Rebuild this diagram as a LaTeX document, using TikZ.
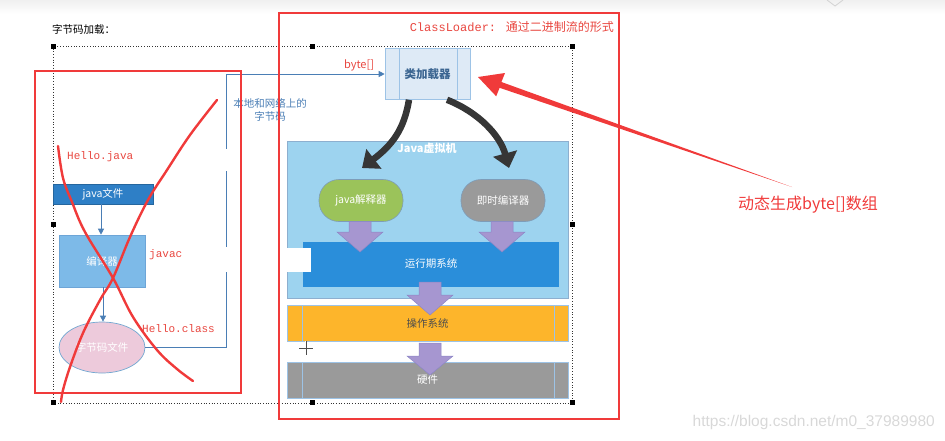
\documentclass[tikz,border=0pt]{standalone}
\usepackage{fontspec}
\setmainfont{Noto Sans CJK SC}
\newfontfamily\monofont{Liberation Mono}
\newfontfamily\wmfont{Liberation Sans}
\usetikzlibrary{arrows.meta,shapes.geometric}
\definecolor{redmark}{HTML}{F03A3A}
\definecolor{redtxt}{HTML}{E8463F}
\definecolor{steel}{HTML}{4A7EB5}
\definecolor{cjava}{HTML}{2E7FC6}
\definecolor{ccomp}{HTML}{7DBAE8}
\definecolor{cpink}{HTML}{EDCADB}
\definecolor{cloader}{HTML}{DEEAF6}
\definecolor{cborder}{HTML}{9DC3E6}
\definecolor{cjvm}{HTML}{9DD3EF}
\definecolor{cgreen}{HTML}{9BC35A}
\definecolor{cgray}{HTML}{9A9A9A}
\definecolor{crun}{HTML}{2A8EDA}
\definecolor{corange}{HTML}{FDB52B}
\definecolor{cpurple}{HTML}{A696D0}
\definecolor{cpurpleb}{HTML}{8C86C6}
\definecolor{cdark}{HTML}{363636}
\definecolor{cwm}{HTML}{D8D8D8}
\newcommand\downarr[5]{% name, cx, top, head, tip
  \draw[purplearr] (#2-11,#3) -- (#2+11,#3) -- (#2+11,#4) -- (#2+23,#4) -- (#2,#5) coordinate (#1) -- (#2-23,#4) -- (#2-11,#4) -- cycle;}
\begin{document}
\begin{tikzpicture}[x=1pt,y=-1pt,
  lbl/.style={font=\fontsize{10.5}{12}\selectfont, text=white, inner sep=0pt},
  box/.style={draw=cborder, line width=0.6pt, inner sep=0pt},
  redbox/.style={draw=redmark, line width=2.8pt},
  redstroke/.style={draw=redmark, line width=2.4pt, line cap=round, line join=round},
  monored/.style={font=\monofont\fontsize{11}{13}\selectfont, text=redtxt, inner sep=0pt, anchor=west},
  conn/.style={draw=steel, line width=0.8pt, -{Triangle[length=6pt,width=6pt]}},
  handle/.style={fill=black, minimum size=5pt, inner sep=0pt},
  purplearr/.style={fill=cpurple, draw=cpurpleb, line width=0.5pt},
  curvearr/.style={draw=cdark, line width=6.5pt, -{Triangle[length=15pt,width=24pt]}},
  gap/.style={fill=white, draw=none}
]
\useasboundingbox (0,0) rectangle (945,440);
% top band of the screenshot
\shade[top color=gray!12, bottom color=white, draw=none] (0,0) rectangle (945,14);
\draw[gray!35, line width=0.8pt] (827,0) -- (835,6) -- (843,0);

% title
\node[anchor=west, font=\fontsize{10.5}{12}\selectfont, inner sep=0pt] (title) at (52,29) {字节码加载：};

% dotted selection frame with handles
\draw[black!80, line width=0.7pt, dotted] (53,46) rectangle (572,403);
\node[handle] (h1) at (53,46) {};
\node[handle] (h2) at (312,46) {};
\node[handle] (h3) at (572,46) {};
\node[handle] (h4) at (53,224) {};
\node[handle] (h5) at (572,224) {};
\node[handle] (h6) at (53,402) {};
\node[handle] (h7) at (312,402) {};
\node[handle] (h8) at (572,402) {};

% ---------- left part ----------
\node[box, draw=cjava!80!black, fill=cjava, minimum width=100pt, minimum height=20pt, lbl] (javafile) at (103,194) {java文件};
\node[box, draw=cjava!70, fill=ccomp, minimum width=86pt, minimum height=52pt, lbl] (compiler) at (102,261) {编译器};
\node[ellipse, draw=ccomp!90!black, line width=0.7pt, fill=cpink, minimum width=86pt, minimum height=51pt, lbl, inner sep=0pt] (bytefile) at (102,347.5) {字节码文件};
\draw[conn] (javafile.south -| 101,0) -- (compiler.north -| 101,0);
\draw[conn] (compiler.south -| 103,0) -- (bytefile.north -| 103,0);

\node[monored] (hellojava) at (67,157) {Hello.java};
\node[monored] (javac) at (149,255) {javac};
\node[monored] (helloclass) at (142,329) {Hello.class};

% loader
\node[box, fill=cloader, minimum width=85pt, minimum height=51pt, inner sep=0pt,
      font=\bfseries\fontsize{11.5}{13}\selectfont, text=steel!80!black] (loader) at (427.5,74) {类加载器};
\draw[cborder, line width=0.6pt] (399,48.5) -- (399,99.5) (457,48.5) -- (457,99.5);

% connector from byte file to loader
\draw[conn] (bytefile.east) -- (226,347.5) |- (loader.west);
\fill[gap] (222,149) rectangle (230,171);
\fill[gap] (222,247) rectangle (230,272);
\node[font=\fontsize{10.5}{13}\selectfont, text=steel, align=center, inner sep=0pt] (netlbl) at (270,110) {本地和网络上的\\字节码};
\node[font=\fontsize{11}{12}\selectfont, text=redtxt, inner sep=0pt] (bytelbl) at (359,65) {byte[]};

% ---------- JVM ----------
\node[box, draw=cborder!90!black, fill=cjvm, minimum width=281pt, minimum height=157pt] (jvm) at (427.5,219.5) {};
\node[font=\bfseries\fontsize{11}{12}\selectfont, text=white, inner sep=0pt] (jvmlbl) at (427,148) {Java虚拟机};
\node[box, draw=cborder!80!black, fill=cgreen, rounded corners=20pt, minimum width=84pt, minimum height=42pt, lbl] (interp) at (361,200.5) {java解释器};
\node[box, draw=cborder!80!black, fill=cgray, rounded corners=20pt, minimum width=84pt, minimum height=42pt, lbl] (jit) at (503,200.5) {即时编译器};
\node[draw=none, fill=crun, minimum width=256pt, minimum height=45pt, lbl, inner sep=0pt] (runtime) at (431,264) {运行期系统};
\fill[gap] (287,248) rectangle (311,272);
\node[box, fill=corange, minimum width=281pt, minimum height=36pt, lbl, text=black!70] (os) at (427.5,323.5) {操作系统};
\draw[cborder, line width=0.5pt] (302,305.5) -- (302,341.5) (554,305.5) -- (554,341.5);
\node[box, fill=cgray, minimum width=281pt, minimum height=36pt, lbl] (hw) at (427.5,380) {硬件};
\draw[cborder, line width=0.5pt] (302,362) -- (302,398) (554,362) -- (554,398);

% purple block arrows
\downarr{pa1}{360}{221.5}{232}{252}
\downarr{pa2}{502}{221.5}{232}{252}
\downarr{pa3}{430}{282}{295}{315}
\downarr{pa4}{430}{343}{356}{375}

% curved dark arrows from loader
\draw[curvearr] (loader.south -| 409,0) .. controls (404,130) and (392,145) .. (362,168) coordinate (ca1);
\draw[curvearr] (loader.south -| 447,0) .. controls (478,112) and (500,135) .. (509,168) coordinate (ca2);

% mouse cursor cross
\draw[white, line width=2pt] (299,348) -- (313,348) (306,341) -- (306,355);
\draw[black!70, line width=0.7pt] (299,348) -- (313,348) (306,341) -- (306,355);

% ---------- red annotations ----------
\draw[redbox] (35,71) rectangle (241,393);
\draw[redbox] (279,13) rectangle (619,419);
\node[anchor=east, inner sep=0pt, text=redtxt] (cltxt) at (614,27)
  {{\monofont\fontsize{12}{14}\selectfont ClassLoader: }{\fontsize{12}{14}\selectfont 通过二进制流的形式}};

\draw[redstroke] plot[smooth, tension=0.6] coordinates {(58,146) (63,178) (72,202) (85,232) (113,278) (133,317) (157,350) (177,369) (193,381)};
\draw[redstroke] plot[smooth, tension=0.6] coordinates {(217,100) (190,135) (167,170) (148,200) (130,237) (113,278) (100,300) (83,333) (70,367) (63,390) (61,402)};

% big red arrow
\coordinate (dyntail) at (792,187);
\coordinate (dyntip) at (478,77);
\fill[redmark] (dyntail) -- (501.4,82.0) -- (505.0,73.0) -- (dyntip) -- (496.2,96.3) -- (499.6,87.8) -- cycle;
\node[text=redmark, font=\fontsize{16}{18}\selectfont, inner sep=0pt] (dyntxt) at (808,205) {动态生成byte[]数组};

% watermark
\node[anchor=east, text=cwm, inner sep=0pt] (wm) at (935,422) {\wmfont\fontsize{15.5}{17}\selectfont https://blog.csdn.net/m0\_37989980};
\end{tikzpicture}
\end{document}
